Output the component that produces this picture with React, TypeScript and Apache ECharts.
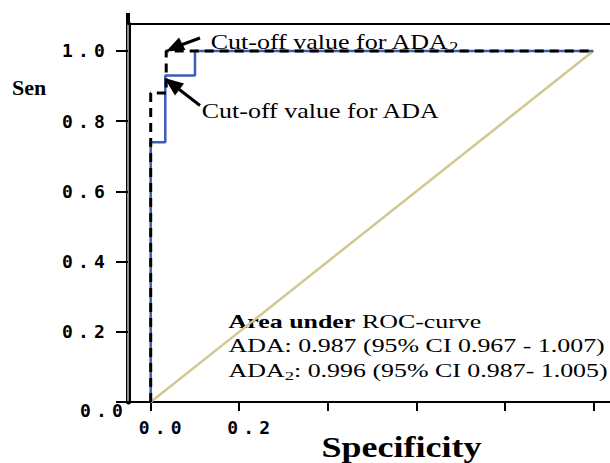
import React, { useEffect, useRef } from "react";
import * as echarts from "echarts";

// ROC data (x = 1 - specificity, y = sensitivity)
const adaFpr = [0, 0, 0.033, 0.033, 0.1, 0.1, 1];
const adaSens = [0, 0.74, 0.74, 0.93, 0.93, 1, 1];
const ada2Fpr = [0, 0, 0.035, 0.035, 1];
const ada2Sens = [0, 0.88, 0.88, 1, 1];
const refFpr = [0, 1];
const refSens = [0, 1];

const xTickValues = [0, 0.2, 0.4, 0.6, 0.8, 1.0];
const xLabelValues = [0, 0.2];
const yTickValues = [0, 0.2, 0.4, 0.6, 0.8, 1.0];
const yLabelValues = [0.2, 0.4, 0.6, 0.8, 1.0];

const xAxisTitle = "Specificity";
const yAxisTitle = "Sen";
const cutoffAda2 = "Cut-off value for ADA{s|2}";
const cutoffAda = "Cut-off value for ADA";
const aucTitleBold = "Area under";
const aucTitleRest = " ROC-curve";
const aucAda = "ADA: 0.987 (95% CI 0.967 - 1.007)";
const aucAda2 = "ADA{s|2}: 0.996 (95% CI 0.987- 1.005)";

const SERIF = "'Liberation Serif', 'Times New Roman', serif";
const MONO = "'DejaVu Sans Mono', monospace";

const X_MIN = -0.0513;
const X_MAX = 1.0377;
const Y_MIN = 0;
const Y_MAX = 1.0769;

const zip = (xs: number[], ys: number[]) => xs.map((x, i) => [x, ys[i]]);

export default function App() {
  const ref = useRef<HTMLDivElement>(null);

  useEffect(() => {
    if (!ref.current) return;
    const chart = echarts.init(ref.current, undefined, { renderer: "svg" });
    const black = "#000";
    const sub = (size: number) => ({
      fontSize: size,
      fontFamily: SERIF,
      fill: black,
      verticalAlign: "bottom",
      lineHeight: size,
    });
    chart.setOption({
      animation: false,
      backgroundColor: "#fff",
      grid: {
        left: 128,
        top: 24,
        right: 0,
        bottom: 61,
        show: false,
      },
      xAxis: [
        {
          type: "value",
          min: X_MIN,
          max: X_MAX,
          axisLine: { show: true, onZero: false, lineStyle: { color: black, width: 2 } },
          axisTick: {
            show: true,
            customValues: xTickValues,
            length: 9,
            lineStyle: { color: black, width: 2 },
          },
          axisLabel: {
            customValues: xLabelValues,
            formatter: (v: number) => v.toFixed(1),
            margin: 16,
            padding: [0, 0, 0, 24],
            color: black,
            fontFamily: MONO,
            fontWeight: "bold",
            fontSize: 18,
          },
          splitLine: { show: false },
        },
        {
          // top frame line of the plot box
          type: "value",
          position: "top",
          min: X_MIN,
          max: X_MAX,
          axisLine: { show: true, onZero: false, lineStyle: { color: black, width: 2 } },
          axisTick: { show: false },
          axisLabel: { show: false },
          splitLine: { show: false },
        },
      ],
      yAxis: [
        {
          type: "value",
          min: Y_MIN,
          max: Y_MAX,
          axisLine: { show: true, onZero: false, lineStyle: { color: black, width: 5 } },
          axisTick: {
            show: true,
            customValues: yTickValues,
            length: 12,
            lineStyle: { color: black, width: 2 },
          },
          axisLabel: {
            customValues: yLabelValues,
            formatter: (v: number) => v.toFixed(1),
            margin: 66,
            align: "left",
            color: black,
            fontFamily: MONO,
            fontWeight: "bold",
            fontSize: 18,
          },
          splitLine: { show: false },
        },
        {
          // grey core of the double left frame line
          type: "value",
          position: "left",
          offset: 0,
          min: Y_MIN,
          max: Y_MAX,
          axisLine: { show: true, onZero: false, lineStyle: { color: "#8a8a8a", width: 2 } },
          axisTick: { show: false },
          axisLabel: { show: false },
          splitLine: { show: false },
        },
      ],
      series: [
        {
          type: "line",
          data: zip(refFpr, refSens),
          showSymbol: false,
          lineStyle: { color: "#d2c891", width: 2.5 },
          z: 1,
        },
        {
          type: "line",
          data: zip(adaFpr, adaSens),
          showSymbol: false,
          lineStyle: { color: "#3d5bb8", width: 2.5 },
          z: 2,
        },
        {
          type: "line",
          data: zip(ada2Fpr, ada2Sens),
          showSymbol: false,
          lineStyle: { color: black, width: 3, type: [9, 6] },
          z: 3,
        },
      ],
      graphic: [
        // extension of the left frame line above the top border
        { type: "line", shape: { x1: 128, y1: 13, x2: 128, y2: 25 }, style: { stroke: black, lineWidth: 4 } },
        // "0.0" label of the y axis (drawn apart, offset as in the source)
        {
          type: "text",
          x: 80,
          y: 410,
          style: { text: "0.0", fill: black, font: `bold 18px ${MONO}`, align: "left", verticalAlign: "middle" },
        },
        // y axis title
        {
          type: "text",
          x: 12,
          y: 88,
          scaleX: 1.1,
          style: { text: yAxisTitle, fill: black, font: `bold 20px ${SERIF}`, align: "left", verticalAlign: "middle" },
        },
        // x axis title
        {
          type: "text",
          x: 401.5,
          y: 447,
          scaleX: 1.2,
          style: { text: xAxisTitle, fill: black, font: `bold 30px ${SERIF}`, align: "center", verticalAlign: "middle" },
        },
        // arrow 1
        { type: "line", shape: { x1: 200, y1: 38, x2: 181, y2: 45 }, style: { stroke: black, lineWidth: 3 } },
        { type: "polygon", shape: { points: [[166, 51.5], [185.5, 50], [179, 37.5]] }, style: { fill: black } },
        // arrow 2
        { type: "line", shape: { x1: 200, y1: 105.5, x2: 178, y2: 88.5 }, style: { stroke: black, lineWidth: 3 } },
        { type: "polygon", shape: { points: [[164.5, 78], [184, 83.5], [175, 95.5]] }, style: { fill: black } },
        // cut-off annotations
        {
          type: "text",
          x: 210.7,
          y: 42.5,
          scaleX: 1.3,
          style: {
            text: cutoffAda2,
            fill: black,
            font: `20px ${SERIF}`,
            lineHeight: 24,
            align: "left",
            verticalAlign: "middle",
            rich: { s: sub(14) },
          },
        },
        {
          type: "text",
          x: 201.7,
          y: 110.9,
          scaleX: 1.3,
          style: { text: cutoffAda, fill: black, font: `20px ${SERIF}`, align: "left", verticalAlign: "middle" },
        },
        // AUC block
        {
          type: "text",
          x: 228.5,
          y: 322.2,
          scaleX: 1.44,
          style: {
            text: `{b|${aucTitleBold}}${aucTitleRest}`,
            fill: black,
            font: `18px ${SERIF}`,
            align: "left",
            verticalAlign: "middle",
            rich: { b: { fontWeight: "bold", fontSize: 18, fontFamily: SERIF, fill: black } },
          },
        },
        {
          type: "text",
          x: 228.5,
          y: 346.2,
          scaleX: 1.44,
          style: { text: aucAda, fill: black, font: `18px ${SERIF}`, align: "left", verticalAlign: "middle" },
        },
        {
          type: "text",
          x: 228.5,
          y: 370.6,
          scaleX: 1.44,
          style: {
            text: aucAda2,
            fill: black,
            font: `18px ${SERIF}`,
            lineHeight: 22,
            align: "left",
            verticalAlign: "middle",
            rich: { s: sub(13) },
          },
        },
      ],
    });
    return () => chart.dispose();
  }, []);

  return (
    <>
      <style>{`#roc svg text[style*="Mono"], #roc svg text[font-family*="Mono"] { letter-spacing: 5.2px; }`}</style>
      <div
        id="roc"
        ref={ref}
        style={{ position: "fixed", left: 0, top: 0, width: 610, height: 463, background: "#fff" }}
      />
    </>
  );
}
